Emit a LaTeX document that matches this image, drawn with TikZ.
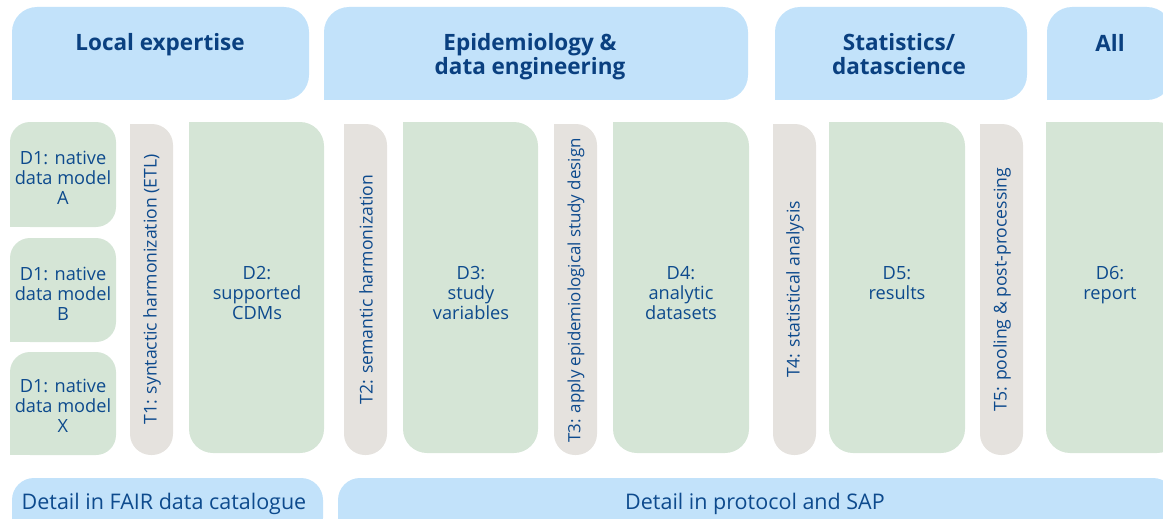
\documentclass[tikz,border=0pt]{standalone}
\usepackage{fontspec}
\setmainfont{Open Sans}
\definecolor{hdrblue}{HTML}{C2E2FA}
\definecolor{dgreen}{HTML}{D5E5D6}
\definecolor{tgray}{HTML}{E5E2DE}
\definecolor{bodytext}{HTML}{0D4A8D}
\definecolor{hdrtext}{HTML}{0A4080}
\begin{document}
\begin{tikzpicture}[x=1pt,y=-1pt,
  hdr/.style={fill=hdrblue, draw=none, rounded corners=25pt, inner sep=0pt},
  dbox/.style={fill=dgreen, draw=none, rounded corners=24pt, inner sep=0pt},
  dsmall/.style={fill=dgreen, draw=none, rounded corners=20pt, inner sep=0pt, minimum width=106pt},
  tbox/.style={fill=tgray, draw=none, rounded corners=21pt, inner sep=0pt, minimum width=43pt, minimum height=331pt},
  fbox/.style={fill=hdrblue, draw=none, rounded corners=22pt, inner sep=0pt, minimum height=62pt},
  htext/.style={font=\bfseries\fontsize{22.5}{24}\selectfont, text=hdrtext, align=center, inner sep=0pt},
  dtext/.style={font=\fontsize{18.2}{20}\selectfont, text=bodytext, align=center, inner sep=0pt},
  ttext/.style={font=\fontsize{17.6}{20}\selectfont, text=bodytext, rotate=90, inner sep=0pt},
  ftext/.style={font=\fontsize{21.5}{24}\selectfont, text=bodytext, inner sep=0pt}
]
\useasboundingbox (0,0) rectangle (1163,519);
\clip (0,0) rectangle (1163,519);

% header boxes
\node[hdr, minimum width=297pt, minimum height=93pt] (h1) at (160.5,53.5) {};
\node[hdr, minimum width=424pt, minimum height=93pt] (h2) at (536,53.5) {};
\node[hdr, minimum width=252pt, minimum height=93pt] (h3) at (901,53.5) {};
\node[hdr, minimum width=125pt, minimum height=93pt] (h4) at (1109.5,53.5) {};
\foreach \n in {h1,h2,h3,h4} {\fill[hdrblue] (\n.south west) rectangle ++(25,-25);}

% D1 boxes
\node[dsmall, minimum height=105pt] (d1a) at (63,174.5) {};
\node[dsmall, minimum height=104pt] (d1b) at (63,290) {};
\node[dsmall, minimum height=103pt] (d1x) at (63,403.5) {};
\foreach \n in {d1a,d1b,d1x} {\fill[dgreen] (\n.south west) rectangle ++(20,-20);}

% task boxes
\node[tbox] (t1) at (151.5,289.5) {};
\node[tbox] (t2) at (365.5,289.5) {};
\node[tbox] (t3) at (575.5,289.5) {};
\node[tbox] (t4) at (794.5,289.5) {};
\node[tbox] (t5) at (1001.5,289.5) {};
\foreach \n in {t1,t2,t3,t4,t5} {\fill[tgray] (\n.north west) rectangle ++(21,21);}

% deliverable boxes
\node[dbox, minimum width=135pt, minimum height=331pt] (d2) at (256.5,287.5) {};
\node[dbox, minimum width=135pt, minimum height=331pt] (d3) at (470.5,287.5) {};
\node[dbox, minimum width=136pt, minimum height=331pt] (d4) at (681,287.5) {};
\node[dbox, minimum width=136pt, minimum height=331pt] (d5) at (897,287.5) {};
\node[dbox, minimum width=135pt, minimum height=331pt] (d6) at (1113.5,287.5) {};
\foreach \n in {d2,d3,d4,d5,d6} {\fill[dgreen] (\n.north west) rectangle ++(24,24);}

% footer boxes
\node[fbox, minimum width=311pt] (f1) at (167.5,509) {};
\node[fbox, minimum width=837pt] (f2) at (756.5,509) {};

% header texts
\node[htext] (h1t) at (160,45) {Local expertise};
\node[htext] (h2t) at (530,57) {Epidemiology \&\\data engineering};
\node[htext] (h3t) at (899,54.5) {Statistics/\\datascience};
\node[htext] (h4t) at (1110,42.5) {All};

% D texts
\node[dtext] (d1at) at (63,178) {D1: native\\data model\\A};
\node[dtext] (d1bt) at (63,294) {D1: native\\data model\\B};
\node[dtext] (d1xt) at (63,406) {D1: native\\data model\\X};
\node[dtext] (d2t) at (257,293) {D2:\\supported\\CDMs};
\node[dtext] (d3t) at (471,293) {D3:\\study\\variables};
\node[dtext] (d4t) at (681,293) {D4:\\analytic\\datasets};
\node[dtext] (d5t) at (897,283) {D5:\\results};
\node[dtext] (d6t) at (1110,285) {D6:\\report};

% T texts
\node[ttext] (t1t) at ([xshift=0.5pt]t1.center) {T1: syntactic harmonization (ETL)};
\node[ttext] (t2t) at ([xshift=0.5pt]t2.center) {T2: semantic harmonization};
\node[ttext, font=\fontsize{16.9}{20}\selectfont] (t3t) at ([xshift=0.5pt,yshift=-1pt]t3.center) {T3: apply epidemiological study design};
\node[ttext] (t4t) at ([xshift=0.5pt]t4.center) {T4: statistical analysis};
\node[ttext] (t5t) at ([xshift=0.5pt]t5.center) {T5: pooling \& post-processing};

% footer texts
\node[ftext] (f1t) at (164,504) {Detail in FAIR data catalogue};
\node[ftext] (f2t) at (755,504) {Detail in protocol and SAP};
\end{tikzpicture}
\end{document}
